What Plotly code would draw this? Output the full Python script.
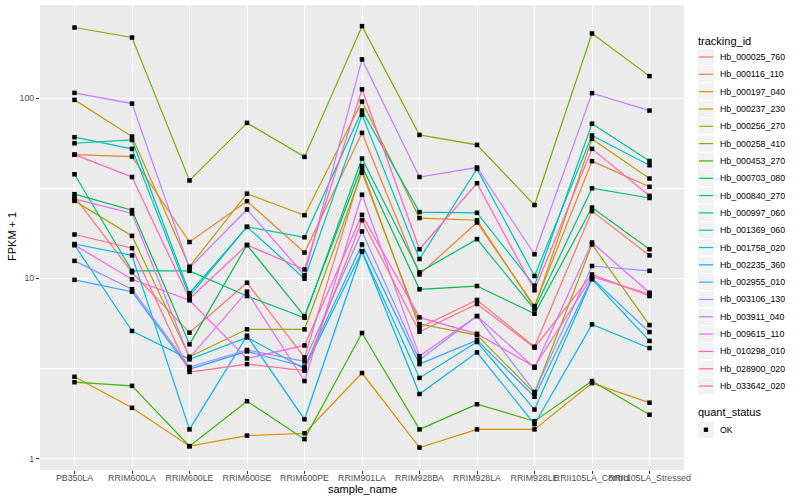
import plotly.graph_objects as go

categories = ["PB350LA", "RRIM600LA", "RRIM600LE", "RRIM600SE", "RRIM600PE",
              "RRIM901LA", "RRIM928BA", "RRIM928LA", "RRIM928LE",
              "RRII105LA_Control", "RRII105LA_Stressed"]

tracking_ids = ["Hb_000025_760", "Hb_000116_110", "Hb_000197_040", "Hb_000237_230",
                "Hb_000256_270", "Hb_000258_410", "Hb_000453_270", "Hb_000703_080",
                "Hb_000840_270", "Hb_000997_060", "Hb_001369_060", "Hb_001758_020",
                "Hb_002235_360", "Hb_002955_010", "Hb_003106_130", "Hb_003911_040",
                "Hb_009615_110", "Hb_010298_010", "Hb_028900_020", "Hb_033642_020"]

colors = ["#F8766D", "#EA8331", "#D89000", "#C09B00", "#A3A500", "#7CAE00", "#39B600",
          "#00BB4E", "#00BF7D", "#00C1A3", "#00BFC4", "#00BAE0", "#00B0F6", "#35A2FF",
          "#9590FF", "#C77CFF", "#E76BF3", "#FA62DB", "#FF62BC", "#FF6C91"]

# FPKM + 1 values per tracking_id, in category order
Hb_000025_760 = [28.4, 10.8, 4.99, 9.45, 3.64, 40.3, 5.32, 7.58, 4.17, 23.6, 13.4]
Hb_000116_110 = [48.6, 47.4, 15.9, 26.8, 13.9, 64.1, 10.5, 20.4, 7.02, 44.7, 32.2]
Hb_000197_040 = [2.84, 1.91, 1.17, 1.34, 1.38, 2.98, 1.15, 1.45, 1.45, 2.62, 2.04]
Hb_000237_230 = [97.8, 61.2, 11.6, 29.5, 22.4, 95.7, 21.6, 21.0, 6.87, 59.4, 35.8]
Hb_000256_270 = [26.9, 17.2, 3.67, 5.21, 5.21, 38.6, 5.57, 4.84, 2.30, 15.4, 5.5]
Hb_000258_410 = [246.6, 217.0, 34.9, 72.9, 47.2, 251.0, 62.5, 55.0, 25.5, 228.5, 132.5]
Hb_000453_270 = [2.65, 2.53, 1.17, 2.08, 1.28, 4.97, 1.45, 2.0, 1.61, 2.69, 1.75]
Hb_000703_080 = [29.3, 23.9, 4.3, 15.3, 6.17, 42.0, 8.69, 9.06, 6.36, 24.7, 14.5]
Hb_000840_270 = [37.8, 11.0, 11.0, 7.97, 6.04, 46.2, 10.8, 16.5, 6.73, 31.6, 27.9]
Hb_000997_060 = [56.2, 58.6, 8.26, 19.3, 16.9, 85.3, 23.3, 23.1, 9.1, 72.2, 44.8]
Hb_001369_060 = [60.7, 52.3, 7.97, 19.3, 9.95, 80.8, 12.8, 40.5, 10.3, 62.0, 42.4]
Hb_001758_020 = [15.3, 5.1, 3.55, 4.7, 3.15, 14.1, 2.8, 4.43, 1.87, 9.87, 4.49]
Hb_002235_360 = [15.5, 13.4, 1.45, 4.8, 1.65, 14.1, 2.28, 3.88, 1.55, 5.55, 4.1]
Hb_002955_010 = [9.8, 8.43, 3.13, 3.93, 3.23, 15.4, 3.34, 4.54, 2.2, 10.0, 5.03]
Hb_003106_130 = [12.5, 8.69, 3.22, 4.0, 3.46, 18.2, 3.52, 6.17, 2.34, 11.7, 11.0]
Hb_003911_040 = [107.0, 93.3, 11.4, 24.1, 10.4, 164.0, 36.5, 41.2, 13.6, 106.6, 85.3]
Hb_009615_110 = [27.6, 22.9, 3.62, 8.43, 2.69, 29.1, 3.7, 6.17, 3.19, 15.8, 8.32]
Hb_010298_010 = [15.3, 9.87, 7.55, 3.59, 4.24, 22.5, 6.07, 4.92, 3.23, 10.2, 8.18]
Hb_028900_020 = [48.6, 36.5, 7.7, 15.3, 11.2, 112.0, 14.5, 33.7, 8.58, 52.3, 28.7]
Hb_033642_020 = [17.5, 14.7, 3.02, 3.34, 3.07, 21.0, 5.05, 7.2, 4.12, 10.5, 7.97]

series = [Hb_000025_760, Hb_000116_110, Hb_000197_040, Hb_000237_230, Hb_000256_270,
          Hb_000258_410, Hb_000453_270, Hb_000703_080, Hb_000840_270, Hb_000997_060,
          Hb_001369_060, Hb_001758_020, Hb_002235_360, Hb_002955_010, Hb_003106_130,
          Hb_003911_040, Hb_009615_110, Hb_010298_010, Hb_028900_020, Hb_033642_020]

quant_status = ["OK"]

y_ticks = [1, 10, 100]
y_tick_labels = ["1", "10", "100"]
y_minor = [10 ** 0.5, 10 ** 1.5]

# ---- layout geometry (pixels) ----
W, H = 800, 500
PL, PR, PT, PB = 40, 684, 5, 470
FONT = "Liberation Sans, Arial, sans-serif"

fig = go.Figure()
for name, vals, col in zip(tracking_ids, series, colors):
    fig.add_trace(go.Scatter(x=categories, y=vals, mode="lines", name=name,
                             line=dict(color=col, width=1.2), showlegend=False,
                             hoverinfo="x+y+name"))

all_x = [c for vals in series for c in categories]
all_y = [v for vals in series for v in vals]
fig.add_trace(go.Scatter(x=all_x, y=all_y, mode="markers", name=quant_status[0],
                         marker=dict(color="black", size=4.5, symbol="square"),
                         showlegend=False))


def px(x):
    return (x - PL) / (PR - PL)


def py(y):
    return (PB - y) / (PB - PT)


shapes = []
annotations = []

# legend: tracking_id
annotations.append(dict(x=px(696), y=py(40.7), xref="paper", yref="paper", text="tracking_id",
                        showarrow=False, xanchor="left", yanchor="middle",
                        font=dict(family=FONT, size=11, color="black")))
step = 17.32
for i, (name, col) in enumerate(zip(tracking_ids, colors)):
    cy = 57.0 + step * i
    shapes.append(dict(type="rect", xref="paper", yref="paper",
                       x0=px(697.3), x1=px(714.6), y0=py(cy - 8.66), y1=py(cy + 8.66),
                       fillcolor="#F2F2F2", line=dict(color="white", width=1)))
    shapes.append(dict(type="line", xref="paper", yref="paper",
                       x0=px(699), x1=px(713), y0=py(cy), y1=py(cy),
                       line=dict(color=col, width=1.2)))
    annotations.append(dict(x=px(717.5), y=py(cy), xref="paper", yref="paper", text=name,
                            showarrow=False, xanchor="left", yanchor="middle",
                            font=dict(family=FONT, size=8.8, color="black")))

# legend: quant_status
annotations.append(dict(x=px(696), y=py(412.3), xref="paper", yref="paper", text="quant_status",
                        showarrow=False, xanchor="left", yanchor="middle",
                        font=dict(family=FONT, size=11, color="black")))
cy = 429.7
shapes.append(dict(type="rect", xref="paper", yref="paper",
                   x0=px(697.3), x1=px(714.6), y0=py(cy - 8.66), y1=py(cy + 8.66),
                   fillcolor="#F2F2F2", line=dict(color="white", width=1)))
shapes.append(dict(type="rect", xref="paper", yref="paper",
                   x0=px(703.8), x1=px(708.1), y0=py(cy - 2.15), y1=py(cy + 2.15),
                   fillcolor="black", line=dict(width=0)))
annotations.append(dict(x=px(717.5), y=py(cy), xref="paper", yref="paper", text=quant_status[0],
                        showarrow=False, xanchor="left", yanchor="middle",
                        font=dict(family=FONT, size=8.8, color="black")))

# axis titles
annotations.append(dict(x=px((PL + PR) / 2), y=py(488.5), xref="paper", yref="paper",
                        text="sample_name", showarrow=False, xanchor="center", yanchor="middle",
                        font=dict(family=FONT, size=11, color="black")))
annotations.append(dict(x=px(12), y=py(237), xref="paper", yref="paper",
                        text="FPKM + 1", showarrow=False, xanchor="center", yanchor="middle",
                        textangle=-90, font=dict(family=FONT, size=11, color="black")))

fig.update_layout(
    width=W, height=H,
    margin=dict(l=PL, r=W - PR, t=PT, b=H - PB, pad=0, autoexpand=False),
    paper_bgcolor="white", plot_bgcolor="#EBEBEB",
    font=dict(family=FONT, size=8.8, color="#4D4D4D"),
    shapes=shapes, annotations=annotations, showlegend=False,
)
fig.update_xaxes(type="category", categoryorder="array", categoryarray=categories,
                 range=[-0.6, len(categories) - 0.4], showgrid=True, gridcolor="white",
                 gridwidth=1.07, zeroline=False, showline=False, automargin=False,
                 ticks="outside", ticklen=3, tickwidth=1.07, tickcolor="#333333",
                 tickangle=0, ticklabelstandoff=-4,
                 tickfont=dict(family=FONT, size=8.8, color="#4D4D4D"))
fig.update_yaxes(type="log", range=[-0.064, 2.517], tickvals=y_ticks, ticktext=y_tick_labels,
                 showgrid=True, gridcolor="white", gridwidth=1.07, zeroline=False,
                 showline=False, automargin=False, ticks="outside", ticklen=3, tickwidth=1.07,
                 tickcolor="#333333", tickfont=dict(family=FONT, size=8.8, color="#4D4D4D"),
                 minor=dict(tickvals=y_minor, showgrid=True, gridcolor="white",
                            gridwidth=0.55, ticks=""))

fig.write_html("out.html", config={"displayModeBar": False},
               post_script="document.body.style.margin='0px';document.body.style.padding='0px';")
